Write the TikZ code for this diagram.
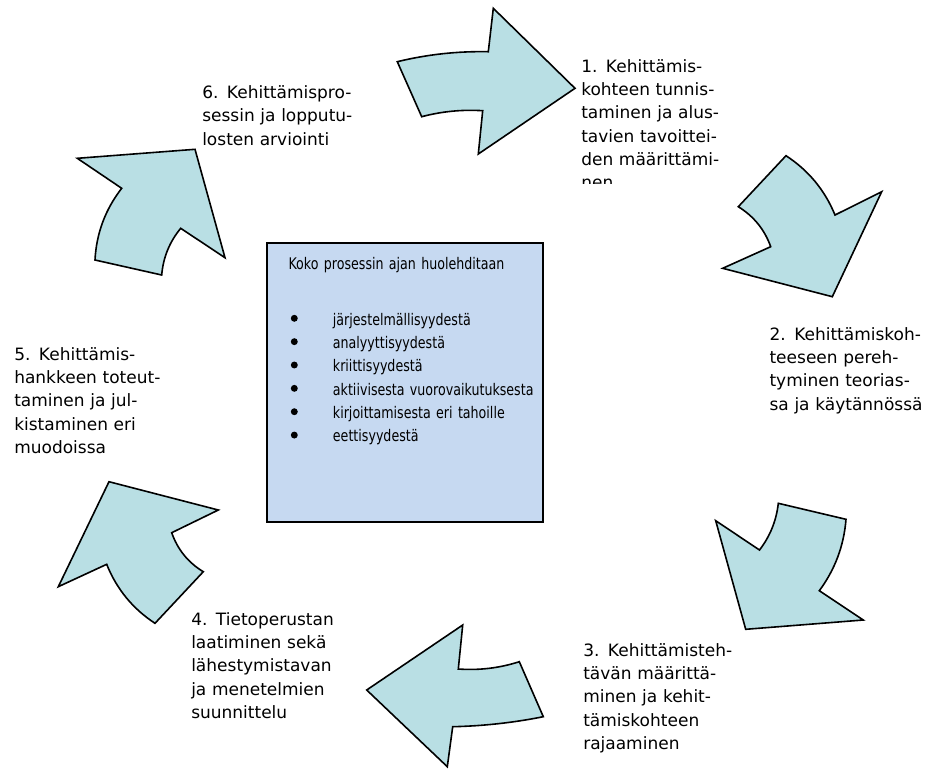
\documentclass[tikz,border=0pt]{standalone}
\usepackage{fontspec}
\setmainfont{DejaVu Sans}
\newfontfamily\corefont{DejaVu Sans}[FakeStretch=0.79]
\definecolor{arrowfill}{HTML}{B9DFE4}
\definecolor{boxfill}{HTML}{C6D9F1}
\begin{document}
\begin{tikzpicture}[x=0.75pt,y=-0.75pt,
  arrowshape/.style={draw=black, line width=1.2pt, fill=arrowfill, line join=miter},
  corebox/.style={draw=black, line width=1.6pt, fill=boxfill},
  steptext/.style={anchor=base west, inner sep=0pt, align=left, text width=170pt,
    font={\fontsize{12.75pt}{17.5pt}\selectfont}},
  listtext/.style={anchor=base west, inner sep=0pt, align=left, text width=220pt,
    font={\corefont\fontsize{12pt}{17.5pt}\selectfont}},
  bulletdot/.style={fill=black}]
\useasboundingbox (0,0) rectangle (929,769);

% curved block arrows running clockwise round the central box
\path[arrowshape] (397.3,61.7) .. controls (427.2,54.4) and (457.5,51.1) .. (488.3,51.7)
  -- (493.3,8.3) -- (575,88.3) -- (478.3,154) -- (482.7,110.7)
  .. controls (462.1,109.4) and (441.7,111.4) .. (421.7,116.7) -- cycle;
\path[arrowshape] (738.3,206.7) .. controls (753.8,216.3) and (764.6,229.6) .. (770.7,246.7)
  -- (722.7,268.3) -- (832.3,296.7) -- (881.7,191.7) -- (835,215)
  .. controls (824.8,190.1) and (808.5,170.4) .. (786,155.7) -- cycle;
\path[arrowshape] (846,519.3) .. controls (843.9,545.7) and (835,569.5) .. (819.3,590.7)
  -- (863.3,620) -- (745.7,629.3) -- (715.7,520.7) -- (759.5,550)
  .. controls (770.1,536.2) and (776.4,520.6) .. (778.3,503.3) -- cycle;
\path[arrowshape] (543.3,716.7) .. controls (513.4,722.7) and (483.2,726) .. (452.7,726.7)
  -- (447.3,766.7) -- (366.7,690) -- (462.7,625) -- (458.3,669)
  .. controls (479.1,670.5) and (499.4,668.1) .. (519.3,661.7) -- cycle;
\path[arrowshape] (155,623.3) .. controls (132.7,608.7) and (116.6,589) .. (106.7,564.3)
  -- (58.3,586.7) -- (109,481.7) -- (218.3,510) -- (171.7,532.7)
  .. controls (177.6,549.5) and (188.1,562.5) .. (203.3,571.7) -- cycle;
\path[arrowshape] (95,260) .. controls (96.4,233.3) and (105.3,209.4) .. (121.7,188.3)
  -- (77.3,158.3) -- (195,149.3) -- (225,257.7) -- (180.7,228.3)
  .. controls (169.5,241.9) and (163.2,257.4) .. (161.7,275) -- cycle;

% central box
\draw[corebox] (266.7,243.3) rectangle (543,521.7);
\node[listtext] (heading) at (288.3,269.3) {Koko prosessin ajan huolehditaan};
\node[listtext] (items) at (332.7,325) {järjestelmällisyydestä\\analyyttisyydestä\\kriittisyydestä\\aktiivisesta vuorovaikutuksesta\\kirjoittamisesta eri tahoille\\eettisyydestä};
\foreach \k in {0,...,5}
  \fill[bulletdot] (294.3,318.3+23.35*\k) circle[radius=2.6pt];

% step labels
\begin{scope}
  \clip (570,30) rectangle (800,183.5);
  \node[steptext] (s1) at (581,72.3) {1. Kehittämis-\\kohteen tunnis-\\taminen ja alus-\\tavien tavoittei-\\den määrittämi-\\nen};
\end{scope}
\node[steptext] (s2) at (769.3,340) {2. Kehittämiskoh-\\teeseen pereh-\\tyminen teorias-\\sa ja käytännössä};
\node[steptext] (s3) at (583,656) {3. Kehittämisteh-\\tävän määrittä-\\minen ja kehit-\\tämiskohteen\\rajaaminen};
\node[steptext] (s4) at (191,625) {4. Tietoperustan\\laatiminen sekä\\lähestymistavan\\ja menetelmien\\suunnittelu};
\node[steptext] (s5) at (14,360) {5. Kehittämis-\\hankkeen toteut-\\taminen ja jul-\\kistaminen eri\\muodoissa};
\node[steptext] (s6) at (202,98.4) {6. Kehittämispro-\\sessin ja lopputu-\\losten arviointi};
\end{tikzpicture}
\end{document}
